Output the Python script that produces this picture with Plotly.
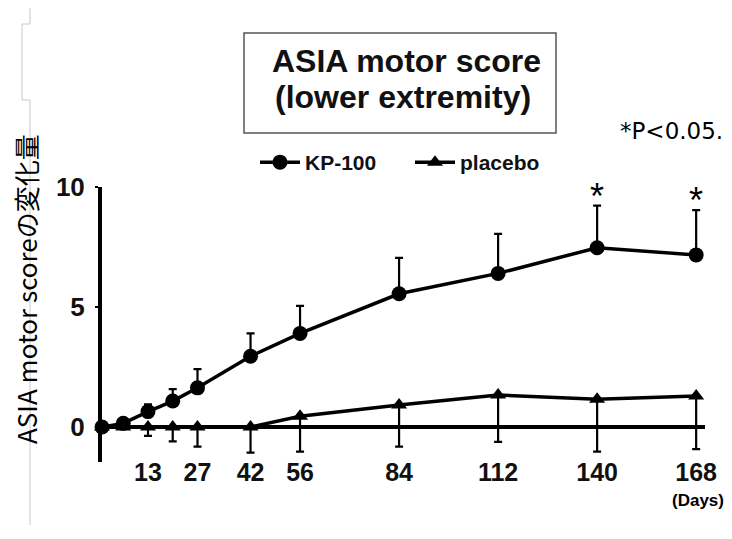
import plotly.graph_objects as go

# ---- data ----
days = [0, 6, 13, 20, 27, 42, 56, 84, 112, 140, 168]
kp100 = [0, 0.15, 0.64, 1.08, 1.63, 2.95, 3.9, 5.55, 6.4, 7.47, 7.17]
kp100_err_up = [0, 0.1, 0.3, 0.5, 0.78, 0.95, 1.15, 1.5, 1.65, 1.75, 1.87]
placebo = [0, 0, 0, 0, 0, 0, 0.45, 0.92, 1.33, 1.15, 1.29]
placebo_err_down = [0, 0.05, 0.37, 0.6, 0.82, 1.07, 1.48, 1.74, 1.95, 2.18, 2.21]
tick_days = [13, 27, 42, 56, 84, 112, 140, 168]
y_ticks = [0, 5, 10]
sig_days = [140, 168]

BOLD = "Liberation Sans"

# page body has an 8px default margin; plot area is 603 x 275 px
PL, PT, PW, PH = 102, 187, 603, 275
OFF = 8


def px(x):
    return (x - PL) / PW


def py(y):
    return (PT + PH - y) / PH


fig = go.Figure()
fig.add_trace(go.Scatter(
    x=days, y=kp100, name="KP-100", mode="lines+markers",
    line=dict(color="black", width=3.5),
    marker=dict(symbol="circle", size=15, color="black"),
    error_y=dict(type="data", symmetric=False, array=kp100_err_up,
                 arrayminus=[0] * len(days), color="black", thickness=2.2, width=4),
    cliponaxis=False,
))
fig.add_trace(go.Scatter(
    x=days, y=placebo, name="placebo", mode="lines+markers",
    line=dict(color="black", width=3.5),
    marker=dict(symbol="triangle-up", size=14, color="black"),
    error_y=dict(type="data", symmetric=False, array=[0] * len(days),
                 arrayminus=placebo_err_down, color="black", thickness=2.2, width=4),
    cliponaxis=False,
))

# significance asterisks above the KP-100 error bars
for d in sig_days:
    i = days.index(d)
    fig.add_annotation(x=d, y=kp100[i] + kp100_err_up[i], text="*", showarrow=False,
                       yanchor="bottom", yshift=-13,
                       font=dict(family="Liberation Sans", size=36, color="black"))

# title box
fig.add_shape(type="rect", xref="paper", yref="paper",
              x0=px(244), x1=px(556), y0=py(133), y1=py(33),
              line=dict(color="#555555", width=1.5), fillcolor="white")
fig.add_annotation(xref="paper", yref="paper", x=px(406), y=py(61),
                   text="ASIA motor score", showarrow=False, xanchor="center", yanchor="middle",
                   font=dict(family=BOLD, size=32, color="#111111", weight="bold"))
fig.add_annotation(xref="paper", yref="paper", x=px(403), y=py(97),
                   text="(lower extremity)", showarrow=False, xanchor="center", yanchor="middle",
                   font=dict(family=BOLD, size=32, color="#111111", weight="bold"))

# p-value note
fig.add_annotation(xref="paper", yref="paper", x=px(671), y=py(131),
                   text="*P<0.05.", showarrow=False, xanchor="center", yanchor="middle",
                   font=dict(family="DejaVu Sans", size=23, color="black"))

# (Days) label
fig.add_annotation(xref="paper", yref="paper", x=px(698), y=py(500),
                   text="(Days)", showarrow=False, xanchor="center", yanchor="middle",
                   font=dict(family=BOLD, size=17, color="black", weight="bold"))

# y-axis title
fig.add_annotation(xref="paper", yref="paper", x=px(25), y=py(289),
                   text="ASIA motor scoreの変化量", showarrow=False, textangle=-90,
                   xanchor="center", yanchor="middle",
                   font=dict(family="Noto Sans CJK JP", size=26, color="black"))

# faint scan-border lines at the left edge
for (x0, y0, x1, y1) in [(30, 8, 30, 24), (30, 24, 22, 24), (22, 24, 22, 100),
                         (22, 100, 30, 100), (30, 100, 30, 525)]:
    fig.add_shape(type="line", xref="paper", yref="paper",
                  x0=px(x0), x1=px(x1), y0=py(y0), y1=py(y1),
                  line=dict(color="#c8c8c8", width=1))

W, H = 732 - OFF, 539 - OFF
fig.update_layout(
    width=W, height=H,
    margin=dict(l=PL - OFF, r=W - (PL - OFF) - PW, t=PT - OFF, b=H - (PT - OFF) - PH,
                autoexpand=False),
    paper_bgcolor="white", plot_bgcolor="white",
    showlegend=True,
    legend=dict(orientation="h", x=px(255), y=py(142),
                xanchor="left", yanchor="top", bgcolor="rgba(0,0,0,0)",
                font=dict(family=BOLD, size=21, color="#111111", weight="bold"),
                itemwidth=40, entrywidth=100, tracegroupgap=0),
    xaxis=dict(range=[0, 170.5], tickvals=tick_days, ticktext=[str(t) for t in tick_days],
               showline=False, showgrid=False, zeroline=False, ticks="",
               ticklabelstandoff=-7,
               tickfont=dict(family=BOLD, size=25, color="#111111", weight="bold")),
    yaxis=dict(range=[-1.46, 10], tickvals=y_ticks, showgrid=False,
               showline=True, linecolor="black", linewidth=4,
               zeroline=True, zerolinecolor="black", zerolinewidth=4,
               ticks="outside", ticklen=3, tickwidth=2, tickcolor="black",
               ticklabelstandoff=5,
               tickfont=dict(family=BOLD, size=26, color="#111111", weight="bold")),
)

fig.write_html("out.html")
